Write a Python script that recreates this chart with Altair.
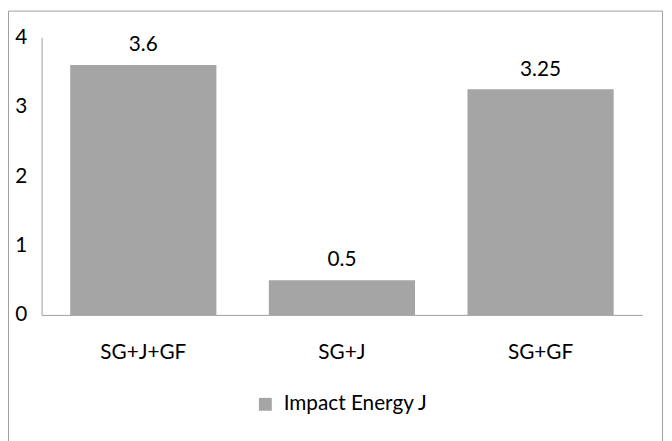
import altair as alt
import pandas as pd

categories = ["SG+J+GF", "SG+J", "SG+GF"]
values = [3.6, 0.5, 3.25]
series_name = "Impact Energy J"

df = pd.DataFrame({"category": categories, "value": values, "series": [series_name] * len(categories)})

FONT = "Lato"
GRAY = "#A5A5A5"
LINE = "#9E9E9E"

x = alt.X("category:N", sort=categories, title=None,
          scale=alt.Scale(paddingInner=0.264, paddingOuter=0.144),
          axis=alt.Axis(labelAngle=0, ticks=False, labelPadding=27, labelFontSize=21,
                        labelColor="#000000", domainColor=LINE, labelFont=FONT))
y = alt.Y("value:Q", title=None, scale=alt.Scale(domain=[0, 4]),
          axis=alt.Axis(values=[0, 1, 2, 3, 4], format="d", ticks=False, grid=False,
                        labelPadding=15, labelFontSize=21, labelColor="#000000",
                        domainColor=LINE, labelFont=FONT))

bars = alt.Chart(df).mark_bar(color=GRAY).encode(
    x=x, y=y,
    color=alt.Color("series:N", title=None,
                    scale=alt.Scale(range=[GRAY]),
                    legend=alt.Legend(orient="none", legendX=216, legendY=361,
                                      symbolType="square", symbolSize=170,
                                      symbolStrokeWidth=0, labelFontSize=21,
                                      labelFont=FONT, labelColor="#000000",
                                      labelOffset=8)),
)

labels = alt.Chart(df).mark_text(font=FONT, fontSize=21, color="#000000",
                                 baseline="alphabetic", dy=-14).encode(
    x=alt.X("category:N", sort=categories),
    y="value:Q",
    text=alt.Text("value:Q", format="~g"),
)

border = alt.Chart(pd.DataFrame({"b": [0]})).mark_rect(
    filled=False, stroke=LINE, strokeWidth=1).encode(
    x=alt.value(-33.5), x2=alt.value(628.5), y=alt.value(-26.5), y2=alt.value(430))

chart = alt.layer(border, bars, labels).properties(
    width=608, height=281,
    padding={"left": 34, "top": 27, "right": 22, "bottom": 125},
    autosize="none",
).configure(font=FONT).configure_view(stroke=None)

chart.save("out.html", embed_options={"renderer": "svg", "actions": False})
